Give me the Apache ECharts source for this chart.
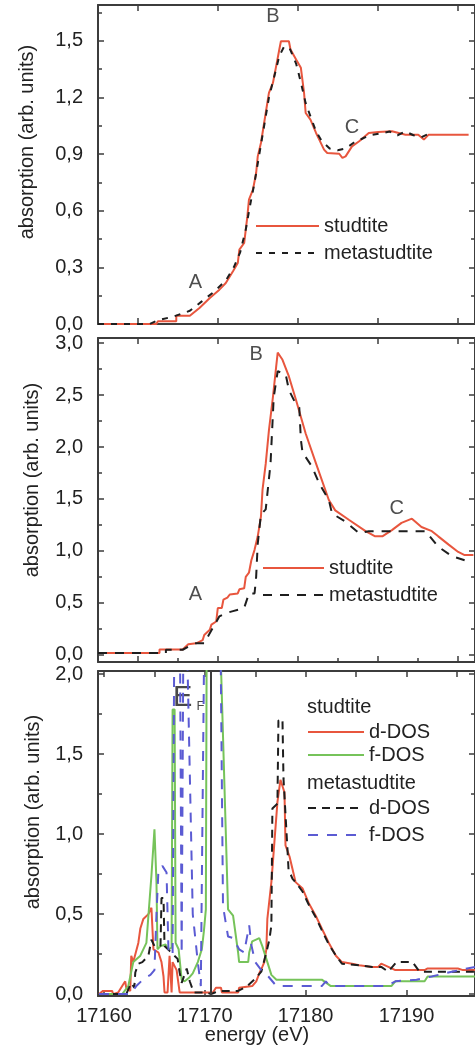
<!DOCTYPE html>
<html><head><meta charset="utf-8">
<script src="https://cdn.jsdelivr.net/npm/echarts@6/dist/echarts.min.js"></script>
<style>html,body{margin:0;padding:0;background:#fff}#c{width:475px;height:1050px}</style>
</head><body><div id="c"></div>
<script>
// ---------- DATA ----------
// Panel 1: experimental XANES (energy eV, absorption)
const p1Studtite = [[17155.0,0.00],[17162.3,0.00],[17162.5,0.014],[17164.8,0.014],[17164.8,0.044],[17166.5,0.044],[17167.7,0.085],[17169.0,0.138],[17170.2,0.182],[17171.0,0.217],[17171.9,0.279],[17172.5,0.323],[17172.7,0.394],[17173.3,0.429],[17173.7,0.570],[17173.9,0.659],[17174.4,0.712],[17174.8,0.800],[17175.0,0.888],[17175.4,0.959],[17175.8,1.065],[17176.0,1.118],[17176.4,1.224],[17176.9,1.277],[17177.3,1.365],[17177.7,1.454],[17177.9,1.498],[17178.9,1.498],[17179.1,1.454],[17179.8,1.401],[17180.4,1.357],[17180.8,1.224],[17181.0,1.118],[17181.6,1.083],[17182.3,1.012],[17182.7,0.977],[17183.3,0.924],[17183.7,0.906],[17185.2,0.902],[17185.6,0.880],[17186.0,0.888],[17186.8,0.941],[17187.7,0.968],[17188.9,1.012],[17190.1,1.017],[17191.8,1.021],[17193.5,1.003],[17195.1,1.003],[17195.8,0.977],[17196.4,1.003],[17201.4,1.003]];
const p1Meta = [[17155.0,0.00],[17161.5,0.00],[17162.5,0.02],[17164.5,0.04],[17166.5,0.07],[17168.0,0.12],[17169.5,0.17],[17171.0,0.23],[17172.0,0.30],[17172.8,0.38],[17173.5,0.50],[17174.0,0.62],[17174.6,0.75],[17175.2,0.90],[17175.8,1.05],[17176.4,1.20],[17177.0,1.30],[17177.7,1.42],[17178.3,1.47],[17179.0,1.46],[17179.8,1.38],[17180.4,1.28],[17181.0,1.17],[17181.6,1.10],[17182.3,1.02],[17183.0,0.97],[17184.0,0.93],[17185.0,0.92],[17186.0,0.93],[17187.0,0.96],[17188.0,0.98],[17189.0,1.00],[17190.5,1.01],[17191.5,1.02],[17192.5,1.00],[17193.5,1.02],[17194.5,1.00],[17195.5,0.99],[17196.5,1.01]];
// Panel 2: calculated XANES
const p2Studtite = [[17155.0,0.016],[17162.7,0.016],[17162.7,0.05],[17165.6,0.05],[17166.3,0.10],[17167.3,0.11],[17168.1,0.14],[17168.3,0.19],[17169.0,0.24],[17169.2,0.29],[17169.8,0.32],[17170.0,0.45],[17170.5,0.45],[17170.7,0.53],[17171.2,0.55],[17171.5,0.58],[17172.5,0.59],[17172.7,0.63],[17173.3,0.64],[17173.5,0.75],[17173.9,0.79],[17174.2,0.91],[17174.6,1.01],[17175.0,1.14],[17175.4,1.33],[17175.6,1.59],[17176.0,1.84],[17176.4,2.16],[17176.9,2.48],[17177.3,2.77],[17177.5,2.91],[17178.1,2.84],[17178.9,2.68],[17179.8,2.45],[17181.0,2.13],[17182.3,1.84],[17183.9,1.49],[17184.7,1.39],[17186.4,1.30],[17188.5,1.19],[17189.7,1.14],[17190.6,1.14],[17191.8,1.20],[17193.0,1.27],[17194.3,1.31],[17195.5,1.23],[17196.8,1.19],[17197.6,1.14],[17198.9,1.06],[17200.1,0.99],[17200.9,0.96],[17202.0,0.96]];
const p2Meta = [[17155.0,0.016],[17163.5,0.016],[17163.5,0.048],[17165.6,0.048],[17167.1,0.11],[17168.3,0.11],[17168.5,0.14],[17170.2,0.37],[17171.0,0.40],[17171.9,0.42],[17173.3,0.45],[17173.9,0.59],[17174.6,0.59],[17174.8,0.75],[17175.0,1.07],[17175.4,1.35],[17176.0,1.40],[17176.6,1.84],[17177.0,2.48],[17177.5,2.73],[17178.5,2.70],[17178.9,2.55],[17179.6,2.44],[17180.2,2.38],[17180.4,2.07],[17180.6,1.95],[17181.8,1.81],[17182.7,1.65],[17183.9,1.49],[17184.3,1.36],[17186.0,1.28],[17187.7,1.17],[17188.9,1.19],[17196.0,1.19],[17197.6,1.04],[17199.3,0.95],[17200.9,0.91]];
// Panel 3: projected DOS
const p3StudD = [[17159.5,0.00],[17159.9,0.02],[17160.8,0.02],[17160.9,0.00],[17161.4,0.01],[17161.8,0.05],[17162.1,0.08],[17162.2,0.04],[17162.6,0.02],[17162.7,0.24],[17162.9,0.20],[17163.4,0.32],[17163.6,0.41],[17163.9,0.47],[17164.4,0.50],[17164.7,0.54],[17164.9,0.28],[17165.4,0.26],[17165.7,0.20],[17165.9,0.11],[17166.0,0.01],[17166.3,0.01],[17166.5,0.24],[17166.7,0.01],[17166.8,0.20],[17167.2,0.15],[17167.5,0.01],[17170.6,0.01],[17170.8,0.01],[17171.1,0.04],[17171.6,0.04],[17171.7,0.01],[17173.3,0.01],[17173.4,0.04],[17174.7,0.05],[17175.1,0.08],[17175.4,0.13],[17175.7,0.17],[17175.9,0.20],[17176.1,0.28],[17176.2,0.47],[17176.6,0.70],[17177.2,1.20],[17177.5,1.34],[17177.9,1.26],[17178.0,0.93],[17178.4,0.86],[17178.7,0.78],[17179.0,0.70],[17179.7,0.66],[17180.3,0.57],[17181.0,0.49],[17181.6,0.41],[17182.3,0.32],[17183.0,0.24],[17183.6,0.20],[17184.6,0.19],[17185.3,0.18],[17186.6,0.17],[17187.2,0.17],[17187.5,0.19],[17188.2,0.17],[17188.9,0.15],[17191.8,0.15],[17192.1,0.16],[17195.1,0.16],[17195.6,0.15],[17196.8,0.15]];
const p3StudF = [[17159.5,0.00],[17161.8,0.00],[17162.4,0.05],[17162.6,0.11],[17162.9,0.20],[17163.6,0.24],[17164.2,0.32],[17164.4,0.49],[17164.7,0.74],[17165.0,1.03],[17165.2,0.70],[17165.3,0.28],[17165.6,0.30],[17166.1,0.31],[17166.4,0.28],[17166.7,0.29],[17166.8,1.78],[17167.0,1.78],[17167.1,0.32],[17167.4,0.28],[17167.7,0.09],[17168.0,0.08],[17168.4,0.10],[17168.8,0.13],[17169.3,0.20],[17169.7,0.28],[17169.9,0.39],[17170.1,0.53],[17170.2,2.60],[17171.5,2.60],[17171.6,2.05],[17172.3,0.53],[17172.8,0.49],[17173.3,0.26],[17173.4,0.20],[17174.3,0.20],[17174.4,0.26],[17174.7,0.33],[17175.4,0.35],[17175.7,0.30],[17176.1,0.22],[17176.6,0.12],[17177.1,0.09],[17181.6,0.09],[17182.5,0.05],[17188.5,0.05],[17188.9,0.08],[17191.8,0.08],[17192.1,0.11],[17196.8,0.11]];
const p3MetaD = [[17159.5,0.00],[17162.2,0.00],[17162.7,0.07],[17163.0,0.04],[17163.1,0.135],[17163.4,0.19],[17163.8,0.20],[17164.4,0.24],[17164.7,0.34],[17165.0,0.30],[17165.6,0.30],[17165.7,0.60],[17165.9,0.60],[17166.0,0.30],[17166.5,0.27],[17167.3,0.22],[17167.5,0.135],[17167.7,0.07],[17168.2,0.16],[17168.5,0.08],[17168.9,0.01],[17170.2,0.01],[17170.6,0.00],[17171.0,0.01],[17171.5,0.02],[17173.3,0.02],[17174.2,0.05],[17174.9,0.09],[17175.6,0.14],[17176.1,0.26],[17176.4,0.34],[17176.6,0.43],[17176.7,1.16],[17177.2,1.19],[17177.3,1.71],[17177.7,1.72],[17177.8,1.35],[17178.2,0.90],[17178.3,0.78],[17178.7,0.72],[17179.0,0.70],[17179.7,0.64],[17180.3,0.56],[17181.0,0.48],[17181.6,0.40],[17182.3,0.31],[17183.0,0.24],[17183.6,0.19],[17185.3,0.18],[17186.6,0.17],[17187.5,0.17],[17188.2,0.14],[17189.0,0.20],[17190.6,0.20],[17191.3,0.14],[17196.8,0.14]];
const p3MetaF = [[17159.5,0.00],[17162.6,0.00],[17163.2,0.05],[17164.0,0.10],[17164.6,0.12],[17165.0,0.15],[17165.2,0.50],[17165.4,0.78],[17165.8,0.80],[17166.2,0.76],[17166.4,0.25],[17166.8,0.25],[17167.0,2.60],[17167.5,2.60],[17167.7,0.25],[17167.9,2.60],[17168.1,2.60],[17168.8,0.50],[17169.3,0.20],[17169.6,0.05],[17170.0,2.60],[17171.5,2.60],[17171.8,0.55],[17172.3,0.36],[17172.8,0.35],[17173.4,0.28],[17173.9,0.26],[17174.4,0.43],[17174.6,0.31],[17175.0,0.20],[17175.6,0.15],[17176.3,0.11],[17177.1,0.05],[17181.6,0.05],[17182.0,0.08],[17182.4,0.05],[17188.0,0.05],[17188.9,0.08],[17191.0,0.09],[17192.5,0.11],[17194.5,0.14],[17196.8,0.17]];
const fermiEnergy = 17170.6;
// annotations [text, energy, absorption]
const p1Marks = [['A',17167.2,0.22],['B',17176.9,1.63],['C',17186.8,1.04]];
const p2Marks = [['A',17167.2,0.58],['B',17174.8,2.89],['C',17192.4,1.41]];
const p3Marks = [['{e|E}{f|F}',17168.4,1.85]];
// axis ranges / ticks
const p12XRange = [17155, 17202.2];
const p3XRange = [17159.4, 17196.8];
const p1YRange = [0, 1.69];
const p2YRange = [-0.07, 3.05];
const p3YRange = [-0.012, 2.02];
const yTitle = 'absorption (arb. units)';
const xTitle = 'energy (eV)';

// ---------- STYLE ----------
const FONT = '"Liberation Sans", Arial, sans-serif';
const AX = '#3c3c3c';
const RED = '#e8563e', GREEN = '#76c35a', BLUE = '#5b5bd3', BLACK = '#1e1e1e';
const comma = v => v.toFixed(1).replace('.', ',');

function axisBase(extra) {
  return Object.assign({
    type: 'value',
    axisLine: {show: true, onZero: false, lineStyle: {color: AX, width: 2}},
    axisTick: {show: true, inside: true, length: 6, lineStyle: {color: AX, width: 1.5}},
    minorTick: {show: false},
    splitLine: {show: false},
    axisLabel: {show: false},
  }, extra);
}
const grids = [
  {left: 98, top: 5, width: 379, height: 319},
  {left: 98, top: 338, width: 379, height: 324},
  {left: 98, top: 671, width: 379, height: 325},
];
const xAxes = [
  axisBase({gridIndex: 0, position: 'bottom', min: p12XRange[0], max: p12XRange[1], splitNumber: 5}),
  axisBase({gridIndex: 0, position: 'top', min: p12XRange[0], max: p12XRange[1], splitNumber: 5}),
  axisBase({gridIndex: 1, position: 'bottom', min: p12XRange[0], max: p12XRange[1], splitNumber: 5,
    minorTick: {show: true, splitNumber: 2, length: 4, lineStyle: {color: AX, width: 1.5}}}),
  axisBase({gridIndex: 1, position: 'top', min: p12XRange[0], max: p12XRange[1], splitNumber: 5}),
  axisBase({gridIndex: 2, position: 'bottom', min: p3XRange[0], max: p3XRange[1], splitNumber: 4,
    axisLabel: {show: true, showMinLabel: false, showMaxLabel: false, margin: 10, color: '#222',
      fontFamily: FONT, fontSize: 20,
      formatter: v => (Math.abs(v % 10) < 1e-6 ? String(v) : '')}}),
  axisBase({gridIndex: 2, position: 'top', min: p3XRange[0], max: p3XRange[1], splitNumber: 7}),
];
const yLab = {show: true, showMinLabel: true, showMaxLabel: false, margin: 15, color: '#222',
  fontFamily: FONT, fontSize: 20, formatter: comma};
const minor = {show: true, splitNumber: 2, length: 4, lineStyle: {color: AX, width: 1.5}};
const yAxes = [
  axisBase({gridIndex: 0, position: 'left', min: p1YRange[0], max: p1YRange[1], interval: 0.3, minorTick: minor, axisLabel: yLab}),
  axisBase({gridIndex: 0, position: 'right', min: p1YRange[0], max: p1YRange[1], interval: 0.3, minorTick: minor}),
  axisBase({gridIndex: 1, position: 'left', min: p2YRange[0], max: p2YRange[1], splitNumber: 6, minorTick: minor,
    axisLabel: Object.assign({}, yLab, {showMinLabel: false})}),
  axisBase({gridIndex: 1, position: 'right', min: p2YRange[0], max: p2YRange[1], splitNumber: 6, minorTick: minor}),
  axisBase({gridIndex: 2, position: 'left', min: p3YRange[0], max: p3YRange[1], splitNumber: 4, minorTick: minor,
    axisLabel: Object.assign({}, yLab, {showMinLabel: false})}),
  axisBase({gridIndex: 2, position: 'right', min: p3YRange[0], max: p3YRange[1], splitNumber: 4, minorTick: minor}),
];

function lineSeries(name, data, xi, color, dash, extra) {
  return Object.assign({
    name, type: 'line', data, xAxisIndex: xi, yAxisIndex: xi,
    showSymbol: false, symbol: 'none', smooth: false, clip: true,
    lineStyle: {color, width: 2, type: dash || 'solid'},
    itemStyle: {color},
    emphasis: {disabled: true},
  }, extra || {});
}
function markSeries(marks, xi) {
  return {
    type: 'scatter', xAxisIndex: xi, yAxisIndex: xi, symbolSize: 0, silent: true,
    data: marks.map(m => ({name: m[0], value: [m[1], m[2]]})),
    label: {show: true, position: 'inside', formatter: p => p.name, color: '#222', fontFamily: FONT, fontSize: 20,
      textBorderWidth: 0, textBorderColor: 'transparent', textShadowBlur: 0,
      rich: {e: {fontSize: 29, fontFamily: FONT, color: '#1a1a1a', lineHeight: 30, textBorderWidth: 0},
             f: {fontSize: 13, fontFamily: FONT, color: '#1a1a1a', verticalAlign: 'bottom', padding: [0, 0, 0, 4], textBorderWidth: 0}}},
  };
}

const series = [
  lineSeries('studtite#1', p1Studtite, 0, RED),
  lineSeries('metastudtite#1', p1Meta, 0, BLACK, [6, 7]),
  lineSeries('studtite#2', p2Studtite, 2, RED),
  lineSeries('metastudtite#2', p2Meta, 2, BLACK, [9, 8]),
  lineSeries('d-DOS#s', p3StudD, 4, RED, 'solid', {
    markLine: {silent: true, symbol: ['none', 'none'], label: {show: false},
      lineStyle: {color: AX, width: 2, type: 'solid'}, data: [{xAxis: fermiEnergy}]}}),
  lineSeries('f-DOS#s', p3StudF, 4, GREEN),
  lineSeries('d-DOS#m', p3MetaD, 4, BLACK, [8, 6]),
  lineSeries('f-DOS#m', p3MetaF, 4, BLUE, [10, 9]),
  markSeries(p1Marks, 0),
  markSeries(p2Marks, 2),
  markSeries(p3Marks, 4),
];
function legend(names, left, top, w, gap) {
  return {
    data: names, left, top, orient: 'vertical', itemWidth: w, itemHeight: 2, itemGap: gap,
    padding: 0, selectedMode: false,
    itemStyle: {opacity: 0, borderWidth: 0},
    formatter: n => n.split('#')[0],
    textStyle: {fontFamily: FONT, fontSize: 20, color: '#222', lineHeight: 20},
  };
}
const legends = [
  legend(['studtite#1', 'metastudtite#1'], 255, 216, 63, 7),
  legend(['studtite#2', 'metastudtite#2'], 262, 558, 61, 7),
  legend(['d-DOS#s', 'f-DOS#s'], 307, 722, 56, 3),
  legend(['d-DOS#m', 'f-DOS#m'], 307, 798, 56, 7),
];
function txt(text, x, y, rot, align) {
  return {type: 'text', x, y, rotation: rot || 0, silent: true,
    style: {text, fill: '#222', font: '20px ' + FONT, textAlign: align || 'center', textVerticalAlign: 'middle'}};
}
const graphics = [
  txt(yTitle, 27, 142, Math.PI / 2),
  txt(yTitle, 32, 480, Math.PI / 2),
  txt(yTitle, 33, 812, Math.PI / 2),
  txt(xTitle, 257, 1035, 0),
  txt('studtite', 307, 707, 0, 'left'),
  txt('metastudtite', 307, 783, 0, 'left'),
];

const chart = echarts.init(document.getElementById('c'), null, {renderer: 'canvas'});
chart.setOption({
  animation: false,
  backgroundColor: '#ffffff',
  grid: grids,
  xAxis: xAxes,
  yAxis: yAxes,
  legend: legends,
  series,
  graphic: graphics,
});
</script>
</body></html>
